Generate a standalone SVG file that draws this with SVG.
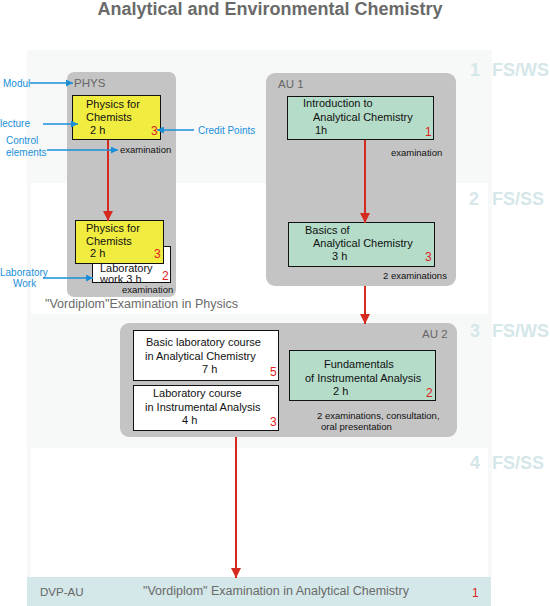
<svg xmlns="http://www.w3.org/2000/svg" width="550" height="606" viewBox="0 0 550 606">
<defs>
<style>
text{font-family:"Liberation Sans",Arial,sans-serif;}
.title{font-size:18px;font-weight:bold;fill:#6a6a6a;}
.fs{font-size:18px;font-weight:bold;fill:#d5e7e9;}
.mod{fill:#c4c4c4;}
.modlbl{font-size:11.5px;fill:#666;}
.yel{fill:#f0ec40;stroke:#111;stroke-width:1;}
.grn{fill:#b4dcc8;stroke:#111;stroke-width:1;}
.wht{fill:#fff;stroke:#111;stroke-width:1;}
.t{font-size:11px;fill:#111;}
.cp{font-size:12px;fill:#e02020;}
.sm{font-size:9.5px;fill:#111;}
.gr{font-size:12.5px;fill:#6a6a6a;}
.ann{font-size:10px;fill:#1a8fd8;}
.red{stroke:#d42a20;stroke-width:2;fill:none;marker-end:url(#ra);}
.blue{stroke:#1a8fd8;stroke-width:1.3;fill:none;marker-end:url(#ba);}
</style>
<marker id="ra" viewBox="0 0 10 10" refX="10" refY="5" markerWidth="10" markerHeight="10" markerUnits="userSpaceOnUse" orient="auto"><path d="M0,0 L10,5 L0,10 z" fill="#d42a20"/></marker>
<marker id="ba" viewBox="0 0 10 10" refX="10" refY="5" markerWidth="7" markerHeight="7" markerUnits="userSpaceOnUse" orient="auto"><path d="M0,0 L10,5 L0,10 z" fill="#1a8fd8"/></marker>
</defs>
<rect width="550" height="606" fill="#fff"/>
<g id="background">
<rect x="27" y="50" width="465" height="527" fill="#f7f9f9"/>
<rect x="31" y="183" width="457" height="131" fill="#fff"/>
<rect x="31" y="448" width="457" height="129" fill="#fff"/>
</g>
<text class="title" x="270" y="15" text-anchor="middle">Analytical and Environmental Chemistry</text>
<g id="semesters">
<text class="fs" x="470" y="76">1</text><text class="fs" x="492" y="76">FS/WS</text>
<text class="fs" x="469" y="205">2</text><text class="fs" x="492" y="205">FS/SS</text>
<text class="fs" x="470" y="337">3</text><text class="fs" x="492" y="337">FS/WS</text>
<text class="fs" x="470" y="469">4</text><text class="fs" x="492" y="469">FS/SS</text>
</g>
<g id="PHYS">
<rect class="mod" x="67" y="72" width="109" height="225" rx="7"/>
<text class="modlbl" x="74" y="87">PHYS</text>
</g>
<g id="phys1">
<rect class="yel" x="72.5" y="95.5" width="88" height="44"/>
<text class="t" x="86" y="108">Physics for</text>
<text class="t" x="86" y="121">Chemists</text>
<text class="t" x="90" y="134">2  h</text>
<text class="cp" x="151" y="135">3</text>
<text class="sm" x="120" y="153">examination</text>
</g>
<g id="lab">
<rect class="wht" x="92.5" y="246.5" width="78" height="36"/>
<text class="t" x="100" y="272">Laboratory</text>
<text class="t" x="100" y="283">work 3  h</text>
<text class="cp" x="162" y="280">2</text>
<text class="sm" x="122" y="293">examination</text>
</g>
<g id="phys2">
<rect class="yel" x="75.5" y="220.5" width="88" height="43"/>
<text class="t" x="86" y="232">Physics for</text>
<text class="t" x="86" y="245">Chemists</text>
<text class="t" x="90" y="257">2  h</text>
<text class="cp" x="154" y="258">3</text>
</g>
<text class="gr" x="45" y="308">"Vordiplom"Examination in Physics</text>
<g id="AU1">
<rect class="mod" x="266" y="73" width="190" height="213" rx="9"/>
<text class="modlbl" x="278" y="88">AU 1</text>
</g>
<g id="intro">
<rect class="grn" x="287.5" y="96.5" width="146" height="43"/>
<text class="t" x="303" y="107">Introduction to</text>
<text class="t" x="313" y="121">Analytical Chemistry</text>
<text class="t" x="315" y="134">1h</text>
<text class="cp" x="425" y="136">1</text>
<text class="sm" x="391" y="156">examination</text>
</g>
<g id="basics">
<rect class="grn" x="288.5" y="222.5" width="146" height="44"/>
<text class="t" x="305" y="234">Basics of</text>
<text class="t" x="313" y="247">Analytical Chemistry</text>
<text class="t" x="332" y="260">3  h</text>
<text class="cp" x="425" y="261">3</text>
<text class="sm" x="383" y="279">2 examinations</text>
</g>
<g id="AU2">
<rect class="mod" x="120" y="323" width="337" height="114" rx="9"/>
<text class="modlbl" x="422" y="338">AU 2</text>
</g>
<g id="basiclab">
<rect class="wht" x="133.5" y="330.5" width="145" height="50"/>
<text class="t" x="146" y="346">Basic laboratory course</text>
<text class="t" x="145" y="360">in Analytical Chemistry</text>
<text class="t" x="202" y="373">7  h</text>
<text class="cp" x="270" y="376">5</text>
</g>
<g id="instlab">
<rect class="wht" x="133.5" y="385.5" width="145" height="45"/>
<text class="t" x="153" y="397">Laboratory course</text>
<text class="t" x="145" y="411">in Instrumental Analysis</text>
<text class="t" x="182" y="424">4  h</text>
<text class="cp" x="270" y="426">3</text>
</g>
<g id="fundamentals">
<rect class="grn" x="289.5" y="350.5" width="146" height="50"/>
<text class="t" x="324" y="368">Fundamentals</text>
<text class="t" x="305" y="382">of Instrumental Analysis</text>
<text class="t" x="333" y="395">2  h</text>
<text class="cp" x="426" y="397">2</text>
<text class="sm" x="317" y="419">2 examinations, consultation,</text>
<text class="sm" x="321" y="430">oral presentation</text>
</g>
<g id="DVP-AU">
<rect x="27" y="577" width="464" height="29" fill="#d4e7e9"/>
<text class="modlbl" x="40" y="596">DVP-AU</text>
<text class="gr" x="276" y="595" text-anchor="middle">"Vordiplom" Examination in Analytical Chemistry</text>
<text class="cp" x="472" y="597">1</text>
</g>
<g id="connectors">
<line class="red" x1="108" y1="140" x2="108" y2="221"/>
<line class="red" x1="365" y1="140" x2="365" y2="223"/>
<line class="red" x1="365" y1="286" x2="365" y2="324"/>
<line class="red" x1="236" y1="437" x2="236" y2="578"/>
</g>
<g id="legend">
<text class="ann" x="3" y="87">Modul</text>
<line class="blue" x1="30" y1="83" x2="73" y2="83"/>
<text class="ann" x="0" y="127">lecture</text>
<line class="blue" x1="43" y1="124" x2="78" y2="124"/>
<text class="ann" x="6" y="144">Control</text>
<text class="ann" x="6" y="156">elements</text>
<line class="blue" x1="47" y1="150" x2="118" y2="150"/>
<text class="ann" x="198" y="134">Credit Points</text>
<line class="blue" x1="194" y1="130" x2="157" y2="130"/>
<text class="ann" x="0" y="276">Laboratory</text>
<text class="ann" x="13" y="287">Work</text>
<line class="blue" x1="43" y1="278" x2="93" y2="278"/>
</g>
</svg>
